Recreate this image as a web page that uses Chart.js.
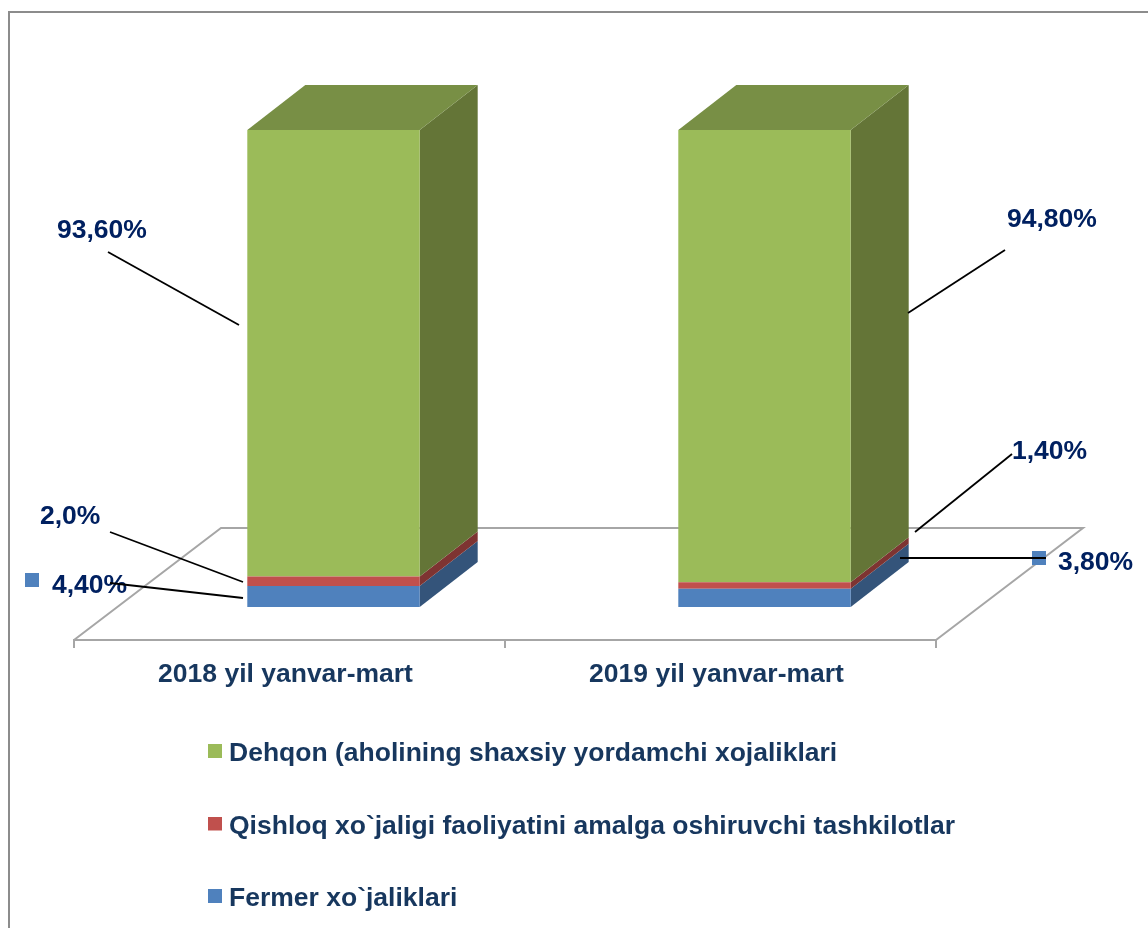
<!DOCTYPE html>
<html>
<head>
<meta charset="utf-8">
<style>
html,body{margin:0;padding:0;background:#fff;width:1148px;height:928px;overflow:hidden}
#frame{position:absolute;left:8px;top:11px;right:-10px;bottom:-10px;border:2px solid #8c8c8c;box-sizing:border-box}
canvas{position:absolute;left:0;top:0}
</style>
<script src="https://cdn.jsdelivr.net/npm/chart.js@4"></script>
</head>
<body>
<div id="frame"></div>
<canvas id="c" width="1148" height="928"></canvas>
<script>
const categories = ['2018 yil yanvar-mart', '2019 yil yanvar-mart'];
const fermerValues = [4.4, 3.8];
const qishloqValues = [2.0, 1.4];
const dehqonValues = [93.6, 94.8];
const seriesNames = ['Fermer xo`jaliklari', 'Qishloq xo`jaligi faoliyatini amalga oshiruvchi tashkilotlar', 'Dehqon (aholining shaxsiy yordamchi xojaliklari'];
const valueLabels = ['93,60%', '94,80%', '2,0%', '4,40%', '1,40%', '3,80%'];

const FRONT = ['#4F81BD', '#C0504D', '#9BBB59'];
const SIDE = ['#34547A', '#7E3432', '#647537'];
const TOP = '#788F45';
const GRAY = '#A6A6A6';
const NAVY = '#17375E';
const LABEL = '#002060';
const BAR_SHIFT = [44, -33];
const DEPTH = [58, -45];
const FLOOR = [147, -112];

/* text x (left), text y (middle); leader line */
const callouts = [
  {t: 0, x: 57,   y: 231, line: [108, 252, 239, 325]},
  {t: 1, x: 1007, y: 220, line: [908, 313, 1005, 250]},
  {t: 2, x: 40,   y: 517, line: [110, 532, 243, 582]},
  {t: 3, x: 52,   y: 586, line: [110, 583, 243, 598], key: [25, 573]},
  {t: 4, x: 1012, y: 452, line: [915, 532, 1012, 454]},
  {t: 5, x: 1058, y: 563, line: [900, 558, 1046, 558], key: [1032, 551]}
];

function swatch(color) {
  const cv = document.createElement('canvas');
  cv.width = 14; cv.height = 20;
  const g = cv.getContext('2d');
  g.fillStyle = color; g.fillRect(0, 0, 14, 14);
  return cv;
}
const swatches = FRONT.map(swatch);

const scene = {
  id: 'scene',
  beforeDraw(chart) {
    const lg = chart.legend;
    lg.left = 214.25 - lg.options.labels.padding;
    lg.right = 1148;
    lg.width = lg.right - lg.left;
    lg.top = 694.75;
    const a = chart.chartArea, c = chart.ctx;
    c.save();
    c.strokeStyle = GRAY; c.lineWidth = 2;
    c.beginPath();
    c.moveTo(a.left, a.bottom);
    c.lineTo(a.left + FLOOR[0], a.bottom + FLOOR[1]);
    c.lineTo(a.right + FLOOR[0], a.bottom + FLOOR[1]);
    c.lineTo(a.right, a.bottom);
    c.stroke();
    c.restore();
  },
  beforeDatasetsDraw(chart) {
    const c = chart.ctx;
    c.save();
    c.translate(BAR_SHIFT[0], BAR_SHIFT[1]);
    chart.data.datasets.forEach((ds, i) => {
      chart.getDatasetMeta(i).data.forEach(el => {
        const p = el.getProps(['x', 'y', 'base', 'width'], true);
        const r = p.x + p.width / 2, l = p.x - p.width / 2;
        c.fillStyle = SIDE[i];
        c.beginPath();
        c.moveTo(r, p.base);
        c.lineTo(r + DEPTH[0], p.base + DEPTH[1]);
        c.lineTo(r + DEPTH[0], p.y + DEPTH[1]);
        c.lineTo(r, p.y);
        c.closePath();
        c.fill();
        if (i === chart.data.datasets.length - 1) {
          c.fillStyle = TOP;
          c.beginPath();
          c.moveTo(l, p.y);
          c.lineTo(l + DEPTH[0], p.y + DEPTH[1]);
          c.lineTo(r + DEPTH[0], p.y + DEPTH[1]);
          c.lineTo(r, p.y);
          c.closePath();
          c.fill();
        }
      });
    });
  },
  afterDatasetsDraw(chart) {
    chart.ctx.restore();
  },
  afterDraw(chart) {
    const c = chart.ctx;
    c.save();
    c.font = 'bold 26.5px "Liberation Sans", Arial, sans-serif';
    c.textBaseline = 'middle';
    c.textAlign = 'left';
    callouts.forEach(o => {
      c.fillStyle = LABEL;
      c.fillText(valueLabels[o.t], o.x, o.y);
      if (o.key) {
        c.fillStyle = FRONT[0];
        c.fillRect(o.key[0], o.key[1], 14, 14);
      }
      c.strokeStyle = '#000';
      c.lineWidth = 1.8;
      c.beginPath();
      c.moveTo(o.line[0], o.line[1]);
      c.lineTo(o.line[2], o.line[3]);
      c.stroke();
    });
    c.restore();
  }
};

new Chart(document.getElementById('c'), {
  type: 'bar',
  data: {
    labels: categories,
    datasets: [
      {label: seriesNames[0], data: fermerValues, backgroundColor: FRONT[0]},
      {label: seriesNames[1], data: qishloqValues, backgroundColor: FRONT[1]},
      {label: seriesNames[2], data: dehqonValues, backgroundColor: FRONT[2]}
    ]
  },
  plugins: [scene],
  options: {
    responsive: false,
    animation: false,
    events: [],
    layout: {padding: {left: 74, right: 212, top: 163, bottom: 0}},
    datasets: {bar: {barPercentage: 0.4, categoryPercentage: 1}},
    scales: {
      x: {
        stacked: true,
        afterFit(s) { s.height = 88; },
        grid: {drawOnChartArea: false, drawTicks: true, tickLength: 8, color: GRAY, lineWidth: 2, offset: true},
        border: {display: true, color: GRAY, width: 2},
        ticks: {color: NAVY, padding: 11, labelOffset: -4, maxRotation: 0, font: {family: '"Liberation Sans", Arial, sans-serif', size: 26.5, weight: 'bold'}}
      },
      y: {stacked: true, display: false, min: 0, max: 100}
    },
    plugins: {
      tooltip: {enabled: false},
      title: {display: false},
      legend: {
        position: 'bottom',
        align: 'start',
        reverse: true,
        maxHeight: 200,
        labels: {
          color: NAVY,
          padding: 46,
          usePointStyle: true,
          pointStyleWidth: 1.5,
          boxHeight: 14,
          font: {family: '"Liberation Sans", Arial, sans-serif', size: 26.5, weight: 'bold'},
          generateLabels(chart) {
            return Chart.defaults.plugins.legend.labels.generateLabels(chart).map(it => {
              it.pointStyle = swatches[it.datasetIndex];
              return it;
            });
          }
        }
      }
    }
  }
});
</script>
</body>
</html>
